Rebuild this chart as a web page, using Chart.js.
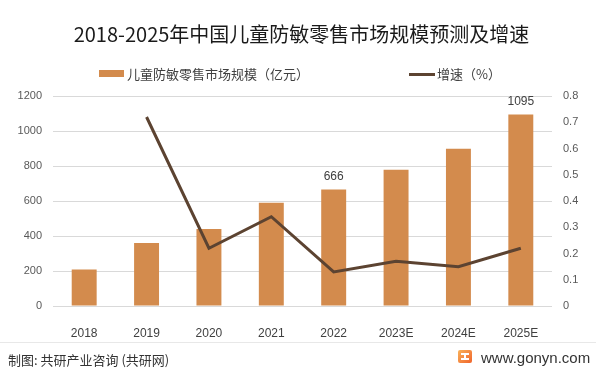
<!DOCTYPE html>
<html>
<head>
<meta charset="utf-8">
<script src="https://cdn.jsdelivr.net/npm/chart.js@4"></script>
<style>
  html, body { margin: 0; padding: 0; background: #fff; }
  #wrap { position: relative; width: 599px; height: 374px; overflow: hidden; font-family: "Noto Sans CJK SC", "Noto Sans", sans-serif; }
  #chart-canvas { position: absolute; left: 0; top: 0; }
  .txt { position: absolute; white-space: nowrap; }
  #title { left: 0; width: 603px; top: 20px; text-align: center; font-size: 20px; line-height: 28px; color: #1a1a1a; }
  .legend-text { font-size: 13px; line-height: 18px; color: #404040; top: 65px; }
  .swatch { position: absolute; }
  #footer-line { position: absolute; left: 0; top: 342px; width: 596px; height: 1px; background: #e8e8e8; }
  .footer { font-size: 13px; line-height: 18px; color: #333; top: 351px; }
  #site { font-family: "Liberation Sans", "Noto Sans", sans-serif; font-size: 15px; top: 348px; left: 481px; line-height: 20px; color: #333; }
  #logo { position: absolute; left: 458px; top: 350px; width: 14px; height: 13px; border-radius: 2px; background: linear-gradient(135deg, #f9b25a, #f0642b); }
  #logo i { position: absolute; background: #fff; }
</style>
</head>
<body>
<div id="wrap">
  <canvas id="chart-canvas" width="599" height="374"></canvas>
  <div id="title" class="txt">2018-2025年中国儿童防敏零售市场规模预测及增速</div>
  <div class="swatch" style="left:99px;top:70px;width:25px;height:7px;background:#D38B4D"></div>
  <div class="txt legend-text" style="left:127px">儿童防敏零售市场规模（亿元）</div>
  <div class="swatch" style="left:409px;top:73px;width:26px;height:3px;background:#5C4331"></div>
  <div class="txt legend-text" style="left:437px">增速（%）</div>
  <div id="footer-line"></div>
  <div class="txt footer" style="left:8px">制图: 共研产业咨询 (共研网)</div>
  <div id="logo"><i style="left:3px;top:3px;width:8px;height:2px"></i><i style="left:6px;top:3px;width:2px;height:7px"></i><i style="left:3px;top:8px;width:8px;height:2px"></i></div>
  <div id="site" class="txt">www.gonyn.com</div>
</div>
<script>
(function(){

  const years = ['2018', '2019', '2020', '2021', '2022', '2023E', '2024E', '2025E'];
  const marketSize = [208, 360, 440, 590, 666, 778, 898, 1095];
  const growthRate = [null, 0.72, 0.22, 0.34, 0.13, 0.17, 0.15, 0.22];
  // only these bars carry a value label in the original
  const labelledBars = [4, 7];

  const context = document.querySelector('#chart-canvas').getContext('2d');

  const barLabels = {
    id: 'barLabels',
    afterDatasetsDraw(chart) {
      const meta = chart.getDatasetMeta(1);
      const ctx = chart.ctx;
      ctx.save();
      ctx.font = '12px "Liberation Sans", sans-serif';
      ctx.fillStyle = '#404040';
      ctx.textAlign = 'center';
      ctx.textBaseline = 'middle';
      labelledBars.forEach(i => {
        const bar = meta.data[i];
        ctx.fillText(String(marketSize[i]), bar.x, bar.y - 13);
      });
      ctx.restore();
    }
  };

  const tickFont = { family: '"Liberation Sans", sans-serif', size: 11 };

  new Chart(context, {
    type: 'bar',
    data: {
      labels: years,
      datasets: [{
        type: 'line',
        label: '增速（%）',
        data: growthRate,
        yAxisID: 'y1',
        borderColor: '#5C4331',
        borderWidth: 3,
        pointRadius: 0,
        tension: 0,
        spanGaps: false,
        order: 0
      }, {
        label: '儿童防敏零售市场规模（亿元）',
        data: marketSize,
        yAxisID: 'y',
        backgroundColor: '#D38B4D',
        categoryPercentage: 1,
        barPercentage: 0.4,
        order: 1
      }]
    },
    options: {
      responsive: false,
      animation: false,
      layout: { padding: { top: 96, left: 0, right: 0, bottom: 0 } },
      plugins: {
        legend: { display: false },
        title: { display: false },
        tooltip: { enabled: false }
      },
      scales: {
        x: {
          grid: { display: false },
          border: { display: false },
          ticks: { color: '#404040', font: { family: '"Liberation Sans", sans-serif', size: 12 }, padding: 12 },
          afterFit: scale => { scale.height = 68; }
        },
        y: {
          position: 'left',
          min: 0,
          max: 1200,
          ticks: { stepSize: 200, color: '#595959', font: tickFont, padding: 11, callback: v => String(v) },
          grid: { color: '#D9D9D9', drawTicks: false },
          border: { display: false },
          afterFit: scale => { scale.width = 53; }
        },
        y1: {
          position: 'right',
          min: 0,
          max: 0.8,
          ticks: { stepSize: 0.1, color: '#595959', font: tickFont, padding: 11, callback: v => String(Math.round(v * 10) / 10) },
          grid: { display: false, drawTicks: false },
          border: { display: false },
          afterFit: scale => { scale.width = 47; }
        }
      }
    },
    plugins: [barLabels]
  });

})();
</script>
</body>
</html>
